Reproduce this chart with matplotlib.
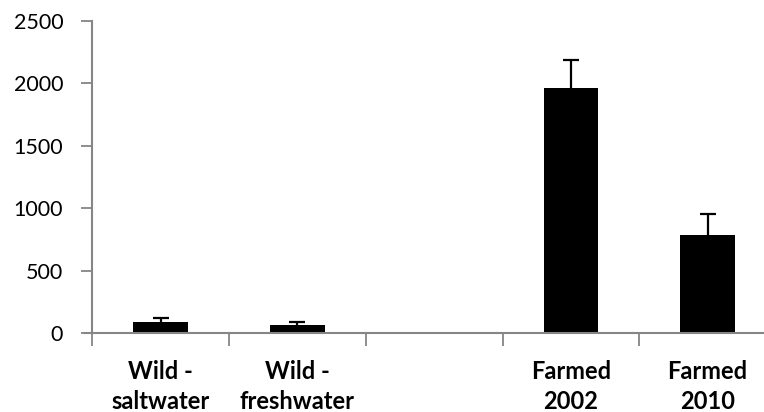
import numpy as np
import matplotlib.pyplot as plt
import matplotlib
matplotlib.rcParams.update({'font.family': ['Lato', 'DejaVu Sans'], 'font.size': 15.5})

# data
labels = ['Wild -\nsaltwater', 'Wild -\nfreshwater', '', 'Farmed\n2002', 'Farmed\n2010']
values = [88, 70, 0, 1963, 785]
errors = [38, 21, 0, 225, 174]
yticks = [0, 500, 1000, 1500, 2000, 2500]

axis_grey = '#868686'

fig = plt.figure(figsize=(7.64, 4.12), dpi=100)
ax = fig.add_axes([92.3/764, (412-333.3)/412, (776-92.3)/764, (333.3-21)/412])

x = np.arange(len(values))
ax.bar(x, values, width=0.4, color='black', edgecolor='none', zorder=3)

# upper half of the error bars only: stem + top cap
err_x = np.array([i for i in x if errors[i] > 0])
lo = np.array([values[i] for i in err_x])
hi = lo + np.array([errors[i] for i in err_x])
ax.vlines(err_x, lo, hi, colors='black', linewidth=1.6, zorder=2)
ax.plot(err_x, hi, linestyle='none', marker='_', markersize=12,
        markeredgewidth=1.6, color='black', zorder=2)

ax.set_xlim(-0.5, len(values) - 0.5)
ax.set_ylim(0, 2500)
ax.set_yticks(yticks)
ax.set_yticklabels([str(v) for v in yticks])

ax.set_xticks(x)
ax.set_xticklabels(labels, fontweight='bold', fontsize=17, linespacing=1.36)
ax.set_xticks(np.arange(-0.5, len(values)), minor=True)
ax.tick_params(axis='x', which='major', length=0, pad=19)
ax.tick_params(axis='x', which='minor', length=9, width=1.3, color=axis_grey)
ax.tick_params(axis='y', length=8, width=1.3, color=axis_grey, pad=13, direction='out')

for s in ['top', 'right']:
    ax.spines[s].set_visible(False)
for s in ['left', 'bottom']:
    ax.spines[s].set_color(axis_grey)
    ax.spines[s].set_linewidth(1.5)
    ax.spines[s].set_zorder(4)
ax.spines['bottom'].set_bounds(-0.5 - 8/137, len(values) - 0.5)

fig.savefig('out.png', dpi=100)
